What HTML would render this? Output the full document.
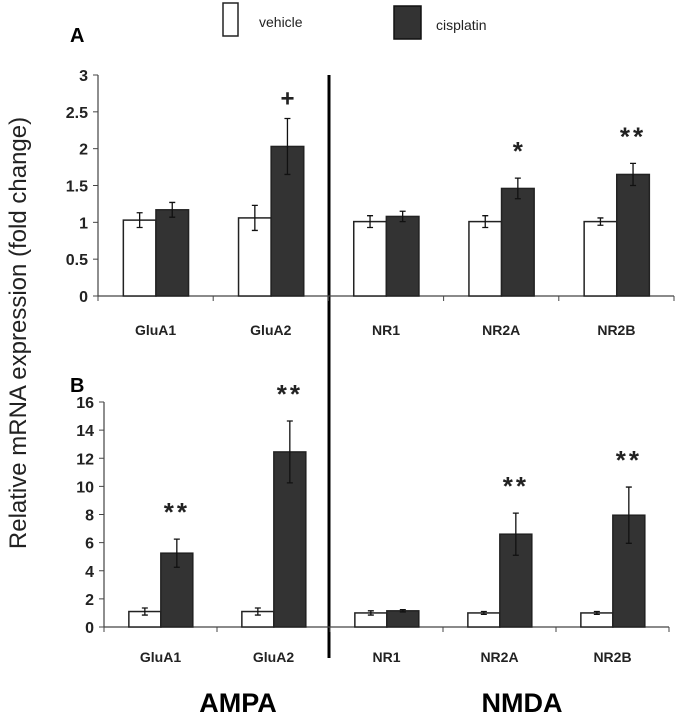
<!DOCTYPE html>
<html><head><meta charset="utf-8"><style>
html,body{margin:0;padding:0;background:#fff;}
svg{display:block;font-family:"Liberation Sans",sans-serif;}
</style></head><body>
<svg id="chart" width="676" height="720">
<g id="legend">
 <rect x="223" y="3" width="15" height="33" fill="#fff" stroke="#222" stroke-width="1.5"/>
 <text x="259" y="27" font-size="14" fill="#222">vehicle</text>
 <rect x="394" y="6" width="27" height="33" fill="#333" stroke="#111" stroke-width="1.5"/>
 <text x="436" y="30" font-size="14" fill="#222">cisplatin</text>
</g>
<text x="70" y="42" font-size="20" font-weight="bold">A</text>
<text x="70" y="392" font-size="20" font-weight="bold">B</text>
<text transform="translate(26,333) rotate(-90)" text-anchor="middle" font-size="24" fill="#222">Relative mRNA expression (fold change)</text>
<line x1="329" y1="75" x2="329" y2="658" stroke="#000" stroke-width="3"/>
<text x="238" y="712" text-anchor="middle" font-size="27" font-weight="bold">AMPA</text>
<text x="522" y="712" text-anchor="middle" font-size="27" font-weight="bold">NMDA</text>
<g id="pa"></g><g id="pb"></g>
</svg>
<script>
const categories=["GluA1","GluA2","NR1","NR2A","NR2B"];
const aVehicle=[1.03,1.06,1.01,1.01,1.01];
const aVehicleErr=[0.1,0.17,0.08,0.08,0.05];
const aCisplatin=[1.17,2.03,1.08,1.46,1.65];
const aCisplatinErr=[0.1,0.38,0.07,0.14,0.15];
const aTicks=[0,0.5,1,1.5,2,2.5,3];
const aMarks=["","+","","*","**"];
const bVehicle=[1.1,1.1,1.0,1.0,1.0];
const bVehicleErr=[0.25,0.25,0.15,0.1,0.1];
const bCisplatin=[5.25,12.45,1.15,6.6,7.95];
const bCisplatinErr=[1.0,2.2,0.08,1.5,2.0];
const bTicks=[0,2,4,6,8,10,12,14,16];
const bMarks=["**","**","","**","**"];
const NS="http://www.w3.org/2000/svg";
function mk(p,t,a){const e=document.createElementNS(NS,t);for(const k in a)e.setAttribute(k,a[k]);p.appendChild(e);return e;}
function panel(gid,pfx,cfg,veh,vehE,cis,cisE,ticks,marks){
 const g=document.getElementById(gid);
 const max=ticks[ticks.length-1];
 const y=v=>cfg.y0-(v/max)*(cfg.y0-cfg.yTop);
 const cw=(cfg.x1-cfg.x0)/categories.length;
 const bw=cw*0.283, off=cw*0.22;
 let e=mk(g,"line",{x1:cfg.x0,y1:cfg.yTop,x2:cfg.x0,y2:cfg.y0,stroke:"#444","stroke-width":1.2});
 
 e=mk(g,"line",{x1:cfg.x0,y1:cfg.y0,x2:cfg.x1,y2:cfg.y0,stroke:"#444","stroke-width":1.2});
 
 ticks.forEach(t=>{
  const l=mk(g,"line",{x1:cfg.x0-5,y1:y(t),x2:cfg.x0,y2:y(t),stroke:"#444"});
  
  const tx=mk(g,"text",{x:cfg.x0-10,y:y(t)+6,"text-anchor":"end","font-size":16,"font-weight":"bold",fill:"#222"});
  tx.textContent=t;
  
 });
 for(let i=0;i<=categories.length;i++){
  const l=mk(g,"line",{x1:cfg.x0+i*cw,y1:cfg.y0,x2:cfg.x0+i*cw,y2:cfg.y0+5,stroke:"#444"});
  
 }
 categories.forEach((c,i)=>{
  const sx=cfg.x0+i*cw+off;
  [[veh,vehE,"#fff","vehicle"],[cis,cisE,"#333","cisplatin"]].forEach(([vals,errs,fill,nm],j)=>{
   const bx=sx+j*bw, v=vals[i];
   const r=mk(g,"rect",{x:bx,y:y(v),width:bw,height:cfg.y0-y(v),fill:fill,stroke:"#222","stroke-width":1.5});
   
   const cx=bx+bw/2, e1=y(v+errs[i]), e2=y(v-errs[i]);
   const el=mk(g,"path",{d:`M${cx},${e1}V${e2}M${cx-3},${e1}H${cx+3}M${cx-3},${e2}H${cx+3}`,stroke:"#111","stroke-width":1.3,fill:"none"});
   
   if(j===1&&marks[i]){
    const m=mk(g,"text",{x:cx,y:y(v+errs[i])-(marks[i]==="+"?12:18),"text-anchor":"middle","font-size":marks[i]==="+"?24:26,"font-weight":"bold",fill:"#222","letter-spacing":marks[i]==="**"?"3":"0"});
    m.textContent=marks[i];
    
   }
  });
  const lb=mk(g,"text",{x:cfg.x0+(i+0.5)*cw,y:cfg.labelY,"text-anchor":"middle","font-size":14,"font-weight":"bold",fill:"#222"});
  lb.textContent=c;
  
 });
}
panel("pa","panel-a",{x0:98,x1:674,yTop:75,y0:296,labelY:335},aVehicle,aVehicleErr,aCisplatin,aCisplatinErr,aTicks,aMarks);
panel("pb","panel-b",{x0:104,x1:669,yTop:402,y0:627,labelY:662},bVehicle,bVehicleErr,bCisplatin,bCisplatinErr,bTicks,bMarks);
</script>
</body></html>
